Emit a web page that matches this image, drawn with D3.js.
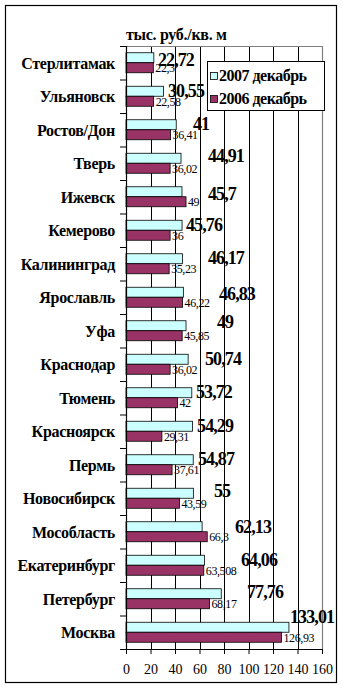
<!DOCTYPE html>
<html>
<head>
<meta charset="utf-8">
<script src="https://cdn.jsdelivr.net/npm/d3@7"></script>
<style>
  body { margin: 0; background: #fff; }
</style>
</head>
<body>
<div id="chart"></div>
<script>
// cities, top to bottom
const cities = ['Стерлитамак', 'Ульяновск', 'Ростов/Дон', 'Тверь', 'Ижевск', 'Кемерово',
  'Калининград', 'Ярославль', 'Уфа', 'Краснодар', 'Тюмень', 'Красноярск', 'Пермь',
  'Новосибирск', 'Мособласть', 'Екатеринбург', 'Петербург', 'Москва'];
const dec2007 = [22.72, 30.55, 41, 44.91, 45.7, 45.76, 46.17, 46.83, 49, 50.74, 53.72,
  54.29, 54.87, 55, 62.13, 64.06, 77.76, 133.01];
const dec2006 = [22.3, 22.58, 36.41, 36.02, 49, 36, 35.23, 46.22, 45.85, 36.02, 42,
  29.31, 37.61, 43.59, 66.3, 63.508, 68.17, 126.93];
const xTicks = [0, 20, 40, 60, 80, 100, 120, 140, 160];
const seriesNames = ['2007 декабрь', '2006 декабрь'];

// where the (hand placed) 2007 labels sit: x in value units, dy from band top
const label07At = [26.1, 34.3, 54.7, 66.9, 66.9, 49, 66.9, 75.9, 74.3, 64.5, 57.1, 58, 58.8,
  71.8, 89, 93.9, 98.8, 133.9];
const label07Dy = [20, 17.5, 17, 15.5, 20, 17.5, 17, 19.5, 14, 17.5, 17, 17.5, 17, 15.5, 18,
  17.5, 16, 7.5];

const W = 343, H = 688;
const plot = { left: 126, right: 322, top: 46, bottom: 649 };
const FONT = "'Liberation Serif', 'DejaVu Serif', serif";
const fmt = v => String(v).replace('.', ',');

const svg = d3.select('#chart').append('svg')
  .attr('width', W).attr('height', H)
  .attr('font-family', FONT);

// outer frame
svg.append('rect')
  .attr('x', 5.5).attr('y', 5.5).attr('width', 331).attr('height', 677)
  .attr('fill', 'none').attr('stroke', '#000').attr('stroke-width', 1.2);

const x = d3.scaleLinear().domain([0, 160]).range([plot.left, plot.right]);
const y = d3.scaleBand().domain(cities).range([plot.top, plot.bottom]);

// grid
svg.append('g')
  .selectAll('line')
  .data(xTicks.filter(t => t > 0 && t < 160))
  .join('line')
  .attr('x1', d => Math.round(x(d)) + 0.5).attr('x2', d => Math.round(x(d)) + 0.5)
  .attr('y1', plot.top).attr('y2', plot.bottom)
  .attr('stroke', '#000').attr('stroke-width', 1);

// gray plot border (top / right)
svg.append('path')
  .attr('d', `M${plot.left},${plot.top + 0.5}H${plot.right + 0.5}V${plot.bottom}`)
  .attr('fill', 'none').attr('stroke', '#808080').attr('stroke-width', 1.2);

// bars
const rows = svg.append('g')
  .selectAll('g')
  .data(cities)
  .join('g')
  .attr('transform', d => `translate(0, ${y(d)})`);

const mid = y.bandwidth() / 2;

rows.append('rect')
  .attr('x', x(0))
  .attr('y', mid - 10)
  .attr('width', (d, i) => x(dec2007[i]) - x(0))
  .attr('height', 10)
  .attr('fill', '#ccffff').attr('stroke', '#000').attr('stroke-width', 0.8);

rows.append('rect')
  .attr('x', x(0))
  .attr('y', mid)
  .attr('width', (d, i) => x(dec2006[i]) - x(0))
  .attr('height', 10)
  .attr('fill', '#993366').attr('stroke', '#000').attr('stroke-width', 0.8);

// 2006 labels
rows.append('text')
  .attr('x', (d, i) => x(dec2006[i]) + 2)
  .attr('y', mid + 9.5)
  .attr('font-size', 12)
  .attr('letter-spacing', -0.4)
  .text((d, i) => fmt(dec2006[i]));

// 2007 labels
rows.append('text')
  .attr('x', (d, i) => x(label07At[i]))
  .attr('y', (d, i) => label07Dy[i])
  .attr('font-size', 18)
  .attr('font-weight', 'bold')
  .attr('letter-spacing', -0.9)
  .text((d, i) => fmt(dec2007[i]));

// y axis
const yAxis = svg.append('g')
  .attr('transform', `translate(${plot.left}, 0)`);
yAxis.append('line')
  .attr('x1', 0.5).attr('x2', 0.5).attr('y1', plot.top).attr('y2', plot.bottom)
  .attr('stroke', '#000').attr('stroke-width', 1.2);
yAxis.selectAll('.tick')
  .data(cities.map(c => y(c)).concat([plot.bottom]))
  .join('line')
  .attr('class', 'tick')
  .attr('x1', -6).attr('x2', 0.5)
  .attr('y1', d => d + 0.5).attr('y2', d => d + 0.5)
  .attr('stroke', '#000').attr('stroke-width', 1);
yAxis.selectAll('.cat')
  .data(cities)
  .join('text')
  .attr('class', 'cat')
  .attr('x', -11)
  .attr('y', d => y(d) + mid + 6)
  .attr('text-anchor', 'end')
  .attr('font-size', 16)
  .attr('font-weight', 'bold')
  .attr('letter-spacing', -0.3)
  .text(d => d);

// x axis
const xAxis = svg.append('g')
  .attr('transform', `translate(0, ${plot.bottom})`)
  .call(d3.axisBottom(x).tickValues(xTicks).tickSize(5).tickSizeOuter(0).tickPadding(10))
  .attr('font-family', FONT)
  .attr('font-size', 14);
xAxis.select('.domain').attr('stroke', '#000').attr('stroke-width', 1.2);
xAxis.selectAll('.tick line').attr('stroke', '#000');
xAxis.selectAll('.tick text').attr('fill', '#000');

// unit caption
svg.append('text')
  .attr('x', plot.left)
  .attr('y', 40)
  .attr('font-size', 16)
  .attr('font-weight', 'bold')
  .attr('letter-spacing', -0.3)
  .text('тыс. руб./кв. м');

// legend
const legend = svg.append('g').attr('transform', 'translate(207, 61)');
legend.append('rect')
  .attr('x', 0.5).attr('y', 0.5).attr('width', 117).attr('height', 49)
  .attr('fill', '#fff').attr('stroke', '#000').attr('stroke-width', 1);
const legendColors = ['#ccffff', '#993366'];
const li = legend.selectAll('.item')
  .data(seriesNames)
  .join('g')
  .attr('class', 'item')
  .attr('transform', (d, i) => `translate(0, ${i * 23})`);
li.append('rect')
  .attr('x', 3.5).attr('y', 11.5).attr('width', 7).attr('height', 7)
  .attr('fill', (d, i) => legendColors[i]).attr('stroke', '#000').attr('stroke-width', 0.8);
li.append('text')
  .attr('x', 12)
  .attr('y', 20)
  .attr('font-size', 16)
  .attr('font-weight', 'bold')
  .attr('letter-spacing', -0.5)
  .text(d => d);
</script>
</body>
</html>
